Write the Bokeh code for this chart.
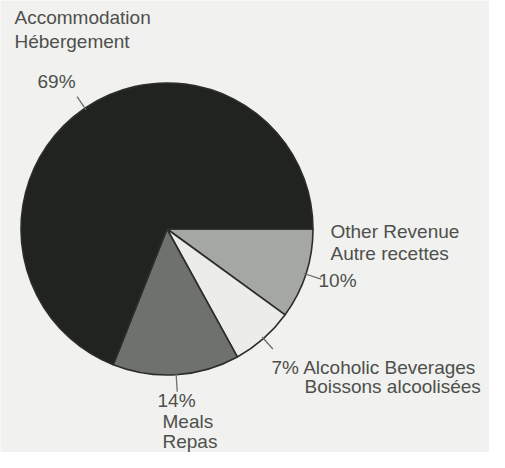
import math
from bokeh.plotting import figure
from bokeh.models import Range1d
from bokeh.core.properties import value
from bokeh.embed import file_html
from bokeh.resources import INLINE

# Data
categories_en = ["Other Revenue", "Alcoholic Beverages", "Meals", "Accommodation"]
categories_fr = ["Autre recettes", "Boissons alcoolisées", "Repas", "Hébergement"]
shares = [10, 7, 14, 69]
colors = ["#a5a7a2", "#ececea", "#6e716c", "#20231f"]

BG = "#f1f1ef"
TXT = "#4d504c"
FONT = value("Liberation Sans")
FS = "19px"

W, H = 489, 452
p = figure(width=W, height=H, output_backend="svg", toolbar_location=None,
           x_range=Range1d(0, W), y_range=Range1d(0, H),
           min_border=0)
p.axis.visible = False
p.grid.visible = False
p.outline_line_color = None
p.background_fill_color = BG
p.border_fill_color = BG

def Y(y):
    return H - y

cx, cy, r = 166.5, Y(228.5), 146

# wedges clockwise from 3 o'clock
total = sum(shares)
cum = 0.0
starts, ends, mids = [], [], []
for s in shares:
    a0 = -2 * math.pi * (cum + s) / total
    a1 = -2 * math.pi * cum / total
    starts.append(a0)
    ends.append(a1)
    mids.append((a0 + a1) / 2)
    cum += s

p.wedge(x=[cx] * 4, y=[cy] * 4, radius=r, start_angle=starts, end_angle=ends,
        fill_color=colors, line_color="#2b2e2a", line_width=1.6)

# leader lines along mid angles
lead = [16, 14, 17, 14]
x0 = [cx + (r - 2) * math.cos(m) for m in mids]
y0 = [cy + (r - 2) * math.sin(m) for m in mids]
x1 = [cx + (r + l) * math.cos(m) for m, l in zip(mids, lead)]
y1 = [cy + (r + l) * math.sin(m) for m, l in zip(mids, lead)]
p.segment(x0=x0, y0=y0, x1=x1, y1=y1, line_color="#6a6d69", line_width=1.3)

pct = [f"{s}%" for s in shares]

def txt(x, y, t, align="left"):
    p.text(x=[x], y=[Y(y)], text=[t], text_font=FONT, text_font_size=FS,
           text_color=TXT, text_align=align, text_baseline="middle")

# Accommodation
txt(14, 17, categories_en[3])
txt(14, 41, categories_fr[3])
txt(37, 81, pct[3])
# Other revenue
txt(330, 231, categories_en[0])
txt(330, 253, categories_fr[0])
txt(318, 280, pct[0])
# Alcoholic
txt(271, 367, pct[1] + " " + categories_en[1])
txt(304, 386, categories_fr[1])
# Meals
txt(157, 400, pct[2])
txt(162, 421, categories_en[2])
txt(162, 441, categories_fr[2])

open("out.html", "w").write(file_html(p, INLINE))
